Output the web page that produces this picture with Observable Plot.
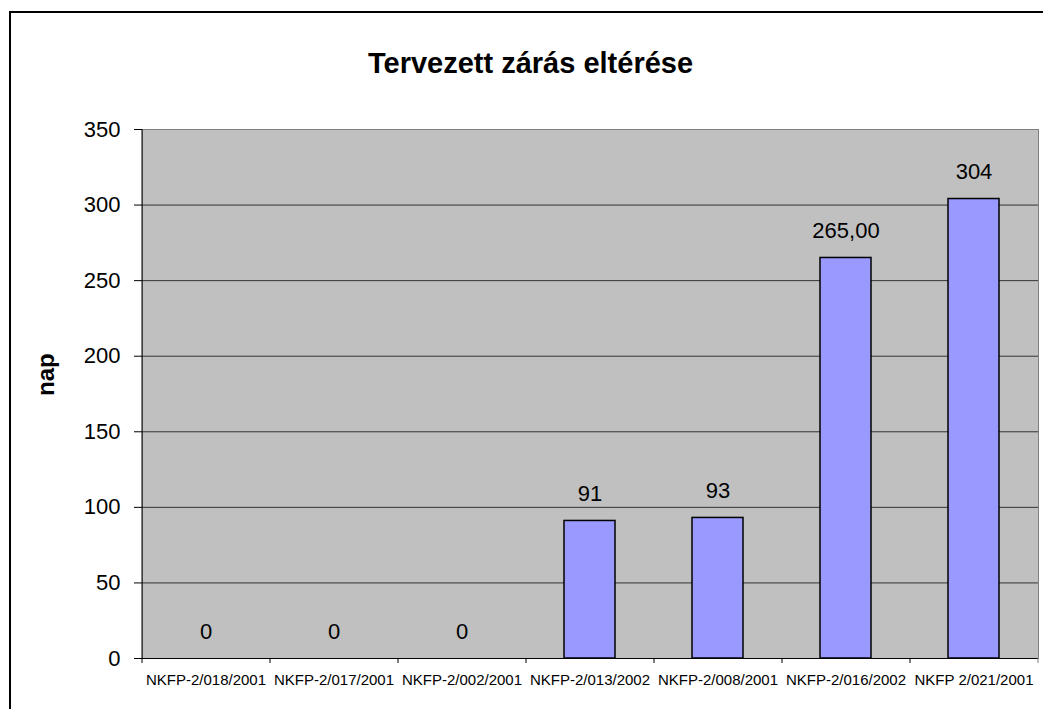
<!DOCTYPE html>
<html><head><meta charset="utf-8">
<script src="https://cdn.jsdelivr.net/npm/d3@7"></script>
<script src="https://cdn.jsdelivr.net/npm/@observablehq/plot@0.6"></script>
<style>
html,body{margin:0;padding:0;background:#fff;overflow:hidden;width:1043px;height:709px}
#wrap{position:relative;width:1043px;height:709px;overflow:hidden}
#frame{position:absolute;left:9px;top:11px;width:1100px;height:800px;border-left:2px solid #000;border-top:2px solid #000;box-sizing:border-box}
#chart{position:absolute;left:0;top:0}
</style></head><body>
<div id="wrap"><div id="frame"></div><div id="chart"></div></div>
<script>
const projects = ["NKFP-2/018/2001","NKFP-2/017/2001","NKFP-2/002/2001","NKFP-2/013/2002","NKFP-2/008/2001","NKFP-2/016/2002","NKFP 2/021/2001"];
const days = [0, 0, 0, 91, 93, 265, 304];
const dayLabels = ["0", "0", "0", "91", "93", "265,00", "304"];
const yTicks = [0, 50, 100, 150, 200, 250, 300, 350];
const title = "Tervezett zárás eltérése";
const yLabel = "nap";

const data = projects.map((p, i) => ({project: p, days: days[i], label: dayLabels[i]}));
const font = "'Liberation Sans', Arial, Helvetica, sans-serif";

const chart = Plot.plot({
  width: 1043, height: 709,
  marginTop: 129, marginBottom: 51, marginLeft: 142, marginRight: 5,
  style: {fontFamily: font, background: "transparent", overflow: "visible", color: "#000"},
  x: {type: "band", domain: projects, paddingInner: 0.6, paddingOuter: 0.3},
  y: {domain: [0, 350]},
  marks: [
    Plot.frame({fill: "#c0c0c0", stroke: "#808080"}),
    Plot.ruleY(yTicks.filter(t => t > 0 && t < 350), {stroke: "#333", strokeWidth: 1}),
    Plot.barY(data.filter(d => d.days > 0), {x: "project", y: "days", fill: "#9999ff", stroke: "#000", strokeWidth: 1.5}),
    Plot.ruleY([0], {stroke: "#000", strokeWidth: 1}),
    Plot.ruleX([projects[0]], {x: d => d, y1: 0, y2: 350, dx: -64, stroke: "#000"}),
    Plot.ruleX(projects, {x: d => d, y1: 0, y2: 0, dx: -64, insetBottom: -5, stroke: "#000"}),
    Plot.ruleX([projects[projects.length - 1]], {x: d => d, y1: 0, y2: 0, dx: 64, insetBottom: -5, stroke: "#808080"}),
    Plot.text(data, {x: "project", y: "days", text: "label", dy: -27, fontSize: 22, fill: "#000"}),
    Plot.axisY(yTicks, {tickSize: 8, tickPadding: 14, fontSize: 22, label: null, tickFormat: d => String(d)}),
    Plot.axisX({tickSize: 0, tickPadding: 16, fontSize: 15, label: null}),
    Plot.text([title], {frameAnchor: "top", dx: -60, dy: -77, fontSize: 29, fontWeight: "bold", fill: "#000"}),
    Plot.text([yLabel], {frameAnchor: "left", dx: -96, dy: 2, rotate: -90, fontSize: 24, fontWeight: "bold", fill: "#000"})
  ]
});
document.getElementById("chart").appendChild(chart);
</script>
</body></html>
